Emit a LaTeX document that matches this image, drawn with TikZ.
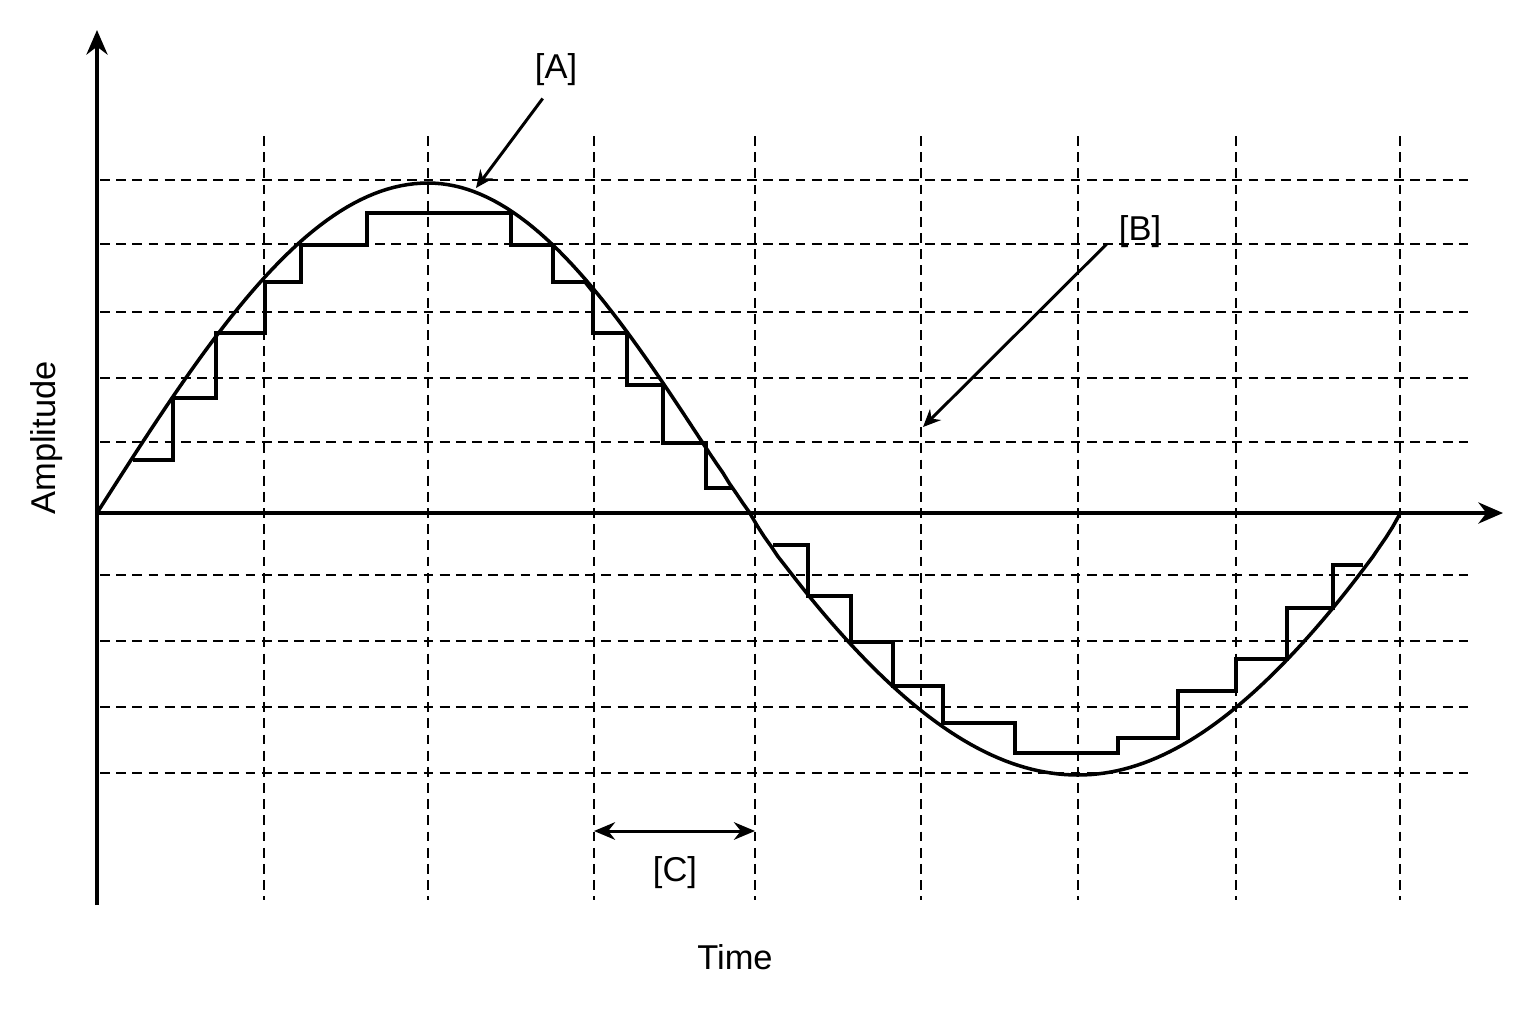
\documentclass[tikz,border=0pt]{standalone}
\usepackage{fontspec}
\setmainfont{Liberation Sans}
\usetikzlibrary{arrows.meta}

\begin{document}
\begin{tikzpicture}[x=0.01cm, y=-0.01cm,
        >={Stealth[length=7pt,width=6pt]},
        gridline/.style={dashed, dash pattern=on 2.8pt off 1.8pt, line width=0.65pt},
        wave/.style={line width=1pt},
        pointer/.style={->, line width=0.85pt, >={Stealth[length=5pt,width=4.4pt]}},
        lbl/.style={font=\fontsize{9.8}{12}\selectfont}]
    \useasboundingbox (0,0) rectangle (1536,1024);
    \foreach \y in {180,244,312,378,442,575,641,707,773} {
        \draw[gridline] (100,\y) -- (1468,\y);
    }
    \foreach \x in {264,428,594,755,921,1078,1236,1400} {
        \draw[gridline] (\x,136) -- (\x,900);
    }
    \draw[->, line width=1.1pt] (97,905) -- (97,30);
    \draw[->, line width=1.1pt] (97,513) -- (1503,513);
    \draw[wave, line join=round]
        plot[domain=97:428, samples=50, variable=\x] ({\x}, {513-330*sin((\x-97)/331*90)})
        -- plot[domain=428:749, samples=50, variable=\x] ({\x}, {513-330*pow(cos((\x-428)/322*90),1.05)})
        -- (750,513)
        -- plot[domain=751:1078, samples=50, variable=\x] ({\x}, {513+262*pow(sin((\x-750)/328*90),0.9)})
        -- plot[domain=1078:1399, samples=50, variable=\x] ({\x}, {513+131*(cos((\x-1078)/322*90)+pow(cos((\x-1078)/322*90),0.8))})
        -- (1400,513);
    \draw[wave] (133,460) -- (173,460) -- (173,398) -- (216,398) -- (216,333) -- (265,333)
        -- (265,282) -- (301,282) -- (301,245) -- (367,245) -- (367,213) -- (511,213)
        -- (511,245) -- (553,245) -- (553,282) -- (585,282) -- (593,292) -- (593,333)
        -- (627,333) -- (627,385) -- (663,385) -- (663,443) -- (706,443) -- (706,488) -- (732,488);
    \draw[wave] (773,545) -- (808,545) -- (808,596) -- (851,596) -- (851,642) -- (893,642)
        -- (893,686) -- (943,686) -- (943,723) -- (1015,723) -- (1015,753) -- (1118,753)
        -- (1118,738) -- (1178,738) -- (1178,691) -- (1236,691) -- (1236,659) -- (1287,659)
        -- (1287,608) -- (1333,608) -- (1333,565) -- (1363,565);
    \node[lbl] (lblA) at (556,70) {[A]};
    \node[lbl] (lblB) at (1140,232) {[B]};
    \node[lbl] (lblC) at (675,873) {[C]};
    \node[lbl] (timeLbl) at (735,957) {Time};
    \node[lbl, rotate=90] (ampLbl) at (47,438) {Amplitude};
    \coordinate (tipA) at (476,188);
    \coordinate (tipB) at (923,427);
    \coordinate (spanL) at (594,831);
    \coordinate (spanR) at (755,831);
    \draw[pointer] (lblA.245) -- (tipA);
    \draw[pointer] (lblB.200) -- (tipB);
    \draw[pointer, <->, >={Stealth[length=6pt,width=5pt]}] (spanL) -- (spanR);
\end{tikzpicture}
\end{document}
